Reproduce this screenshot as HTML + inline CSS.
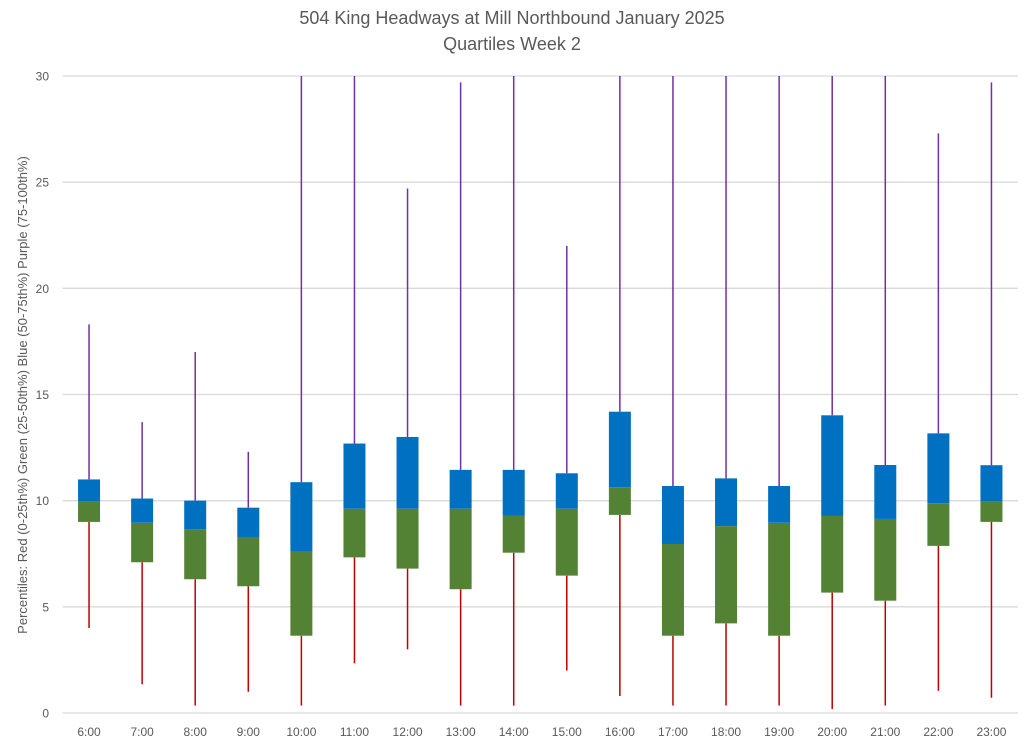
<!DOCTYPE html>
<html><head><meta charset="utf-8"><style>
body{margin:0;background:#fff;font-family:"Liberation Sans",sans-serif}
svg text{font-family:"Liberation Sans",sans-serif;fill:#595959}
</style></head><body>
<svg id="chart" width="1024" height="745" xmlns="http://www.w3.org/2000/svg">
<text x="512" y="24" text-anchor="middle" font-size="18">504 King Headways at Mill Northbound January 2025</text>
<text x="512" y="50" text-anchor="middle" font-size="18">Quartiles Week 2</text>
<text transform="translate(27,395) rotate(-90)" text-anchor="middle" font-size="13">Percentiles:  Red (0-25th%)  Green (25-50th%)  Blue (50-75th%)  Purple (75-100th%)</text>
<g id="grid"></g><g id="marks"></g><g id="labels"></g>
</svg>
<script>
const categories=["6:00","7:00","8:00","9:00","10:00","11:00","12:00","13:00","14:00","15:00","16:00","17:00","18:00","19:00","20:00","21:00","22:00","23:00"];
const minVals=[4.0,1.35,0.35,1.0,0.35,2.34,3.0,0.35,0.35,2.0,0.8,0.35,0.35,0.35,0.19,0.35,1.04,0.72];
const q1Vals=[9.0,7.1,6.3,5.97,3.64,7.33,6.8,5.83,7.55,6.47,9.33,3.64,4.22,3.64,5.67,5.29,7.87,9.0];
const medVals=[9.95,8.96,8.65,8.29,7.63,9.62,9.62,9.62,9.3,9.62,10.63,7.96,8.8,8.96,9.28,9.14,9.88,9.95];
const q3Vals=[11.0,10.1,10.0,9.67,10.87,12.69,13.0,11.45,11.45,11.29,14.19,10.69,11.05,10.69,14.02,11.68,13.17,11.67];
const maxVals=[18.3,13.7,17.0,12.3,30,30,24.7,29.7,30,22.0,30,30,30,30,30,30,27.3,29.7];
const yTicks=[0,5,10,15,20,25,30];
const NS="http://www.w3.org/2000/svg";
const x0=62.5,x1=1018,y0=713,y1=76,yMax=30;
const bw=(x1-x0)/categories.length;
const X=i=>x0+bw*(i+0.5);
const Y=v=>y0-(v/yMax)*(y0-y1);
function mk(tag,attrs,parent){const e=document.createElementNS(NS,tag);for(const k in attrs)e.setAttribute(k,attrs[k]);document.getElementById(parent).appendChild(e);return e;}
yTicks.forEach(t=>{
 const l=mk("line",{x1:x0,x2:x1,y1:Y(t),y2:Y(t),stroke:"#d9d9d9","stroke-width":1.3},"grid");
 
 
 const tx=mk("text",{x:49,y:Y(t)+4.5,"text-anchor":"end","font-size":12},"labels");
 tx.textContent=t;
 
 
});
categories.forEach((c,i)=>{
 const x=X(i),w=22;
 const lo=mk("line",{x1:x,x2:x,y1:Y(minVals[i]),y2:Y(q1Vals[i]),stroke:"#c00000","stroke-width":1.5},"marks");
 
 
 const hi=mk("line",{x1:x,x2:x,y1:Y(maxVals[i]),y2:Y(q3Vals[i]),stroke:"#7030a0","stroke-width":1.5},"marks");
 
 
 const g=mk("rect",{x:x-w/2,width:w,y:Y(medVals[i]),height:Y(q1Vals[i])-Y(medVals[i]),fill:"#548235"},"marks");
 
 
 const b=mk("rect",{x:x-w/2,width:w,y:Y(q3Vals[i]),height:Y(medVals[i])-Y(q3Vals[i]),fill:"#0070c0"},"marks");
 
 
 const tx=mk("text",{x:x,y:736,"text-anchor":"middle","font-size":12},"labels");
 tx.textContent=c;
 
 
});
</script>
</body></html>
